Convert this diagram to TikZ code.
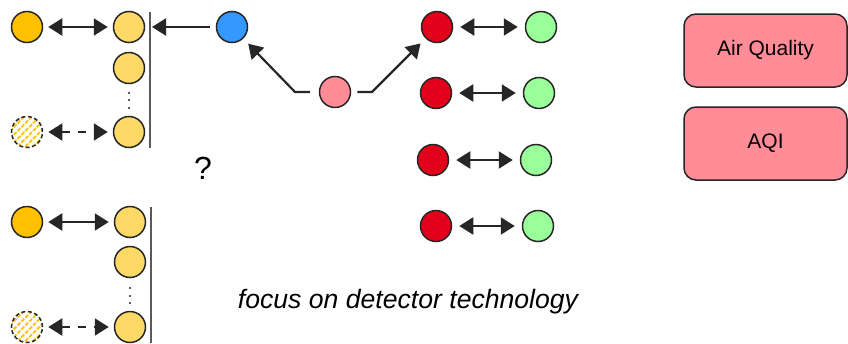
\documentclass[tikz,border=0pt]{standalone}
\usepackage{fontspec}
\setmainfont{Liberation Sans}
\usepackage{xcolor}
\usepackage{tikz}
\usetikzlibrary{arrows.meta,patterns.meta}
\definecolor{ink}{HTML}{262626}
\definecolor{rule}{HTML}{5A5A5A}
\definecolor{amber}{HTML}{FFC000}
\definecolor{sand}{HTML}{FFD966}
\definecolor{sky}{HTML}{3399FF}
\definecolor{rose}{HTML}{FF8C96}
\definecolor{crimson}{HTML}{E3001B}
\definecolor{mint}{HTML}{99FF99}
\tikzset{
  ball/.style={circle, draw=ink, line width=1.5pt, minimum size=31pt, inner sep=0pt},
  hatch/.style={ball, dashed, dash pattern=on 4pt off 2.5pt,
    pattern={Lines[angle=45,distance=5.5pt,line width=1.8pt]}, pattern color=amber},
  link/.style={draw=ink, line width=2.2pt, {Triangle[length=14pt,width=17pt]}-{Triangle[length=14pt,width=17pt]},
    shorten <=5pt, shorten >=5pt},
  dlink/.style={link, dash pattern=on 8pt off 8pt},
  feed/.style={draw=ink, line width=2.2pt, -{Triangle[length=14pt,width=17pt]}},
  wall/.style={draw=rule, line width=1.6pt},
  pt/.style={circle, fill=ink, inner sep=0pt, minimum size=2.4pt},
  tag/.style={draw=ink, line width=1.5pt, fill=rose, rounded corners=12pt,
    minimum width=163pt, minimum height=73pt, font=\fontsize{21}{25}\selectfont}
}

\begin{document}
\begin{tikzpicture}[x=1pt, y=-1pt]
  \useasboundingbox (0,0) rectangle (848,343);

  % upper column
  \node[ball, fill=amber] (orA) at (27,27) {};
  \node[ball, fill=sand] (ylA1) at (129,27) {};
  \node[ball, fill=sand] (ylA2) at (129,68) {};
  \node[ball, fill=sand] (ylA3) at (129,132) {};
  \node[hatch] (htA) at (27,132) {};
  \foreach \y in {93,100,108} \node[pt] at (129,\y) {};
  \coordinate (wallAtop) at (150,12);
  \coordinate (wallAbot) at (150,148);
  \draw[wall] (wallAtop) -- (wallAbot);
  \draw[link] (orA) -- (ylA1);
  \draw[dlink] (htA) -- (ylA3);

  % lower column
  \node[ball, fill=amber] (orB) at (27,222) {};
  \node[ball, fill=sand] (ylB1) at (130,222) {};
  \node[ball, fill=sand] (ylB2) at (130,262) {};
  \node[ball, fill=sand] (ylB3) at (130,327) {};
  \node[hatch] (htB) at (27,327) {};
  \foreach \y in {288,296,303} \node[pt] at (130,\y) {};
  \coordinate (wallBtop) at (151,207);
  \coordinate (wallBbot) at (151,343);
  \draw[wall] (wallBtop) -- (wallBbot);
  \draw[link] (orB) -- (ylB1);
  \draw[dlink] (htB) -- (ylB3);

  % source and branches
  \node[ball, fill=sky] (blue) at (232,27) {};
  \node[ball, fill=rose] (pink) at (335,92) {};
  \coordinate (hit) at (152,27);
  \coordinate (bendL) at (295,92);
  \coordinate (bendR) at (372,92);
  \draw[feed, shorten <=6pt] (blue) -- (hit);

  \node[ball, fill=crimson] (rd1) at (437,27) {};
  \node[ball, fill=crimson] (rd2) at (436,93) {};
  \node[ball, fill=crimson] (rd3) at (433,160) {};
  \node[ball, fill=crimson] (rd4) at (436,226) {};
  \node[ball, fill=mint] (gr1) at (541,27) {};
  \node[ball, fill=mint] (gr2) at (539,93) {};
  \node[ball, fill=mint] (gr3) at (536,160) {};
  \node[ball, fill=mint] (gr4) at (538,226) {};
  \foreach \i in {1,...,4} \draw[link, shorten <=7pt, shorten >=7pt] (rd\i) -- (gr\i);

  \draw[feed, shorten >=7pt] ([xshift=-9pt]pink.west) -- (bendL) -- (blue);
  \draw[feed, shorten >=7pt] ([xshift=6pt]pink.east) -- (bendR) -- (rd1);

  \node[font=\fontsize{32}{36}\selectfont] (ask) at (203,168) {?};
  \node[font=\fontsize{26.6}{30}\selectfont\itshape] (note) at (408,302) {focus on detector technology};

  \node[tag] (aq) at (765.5,50.5) {Air Quality};
  \node[tag] (aqi) at (765.5,143.5) {AQI};
\end{tikzpicture}
\end{document}
